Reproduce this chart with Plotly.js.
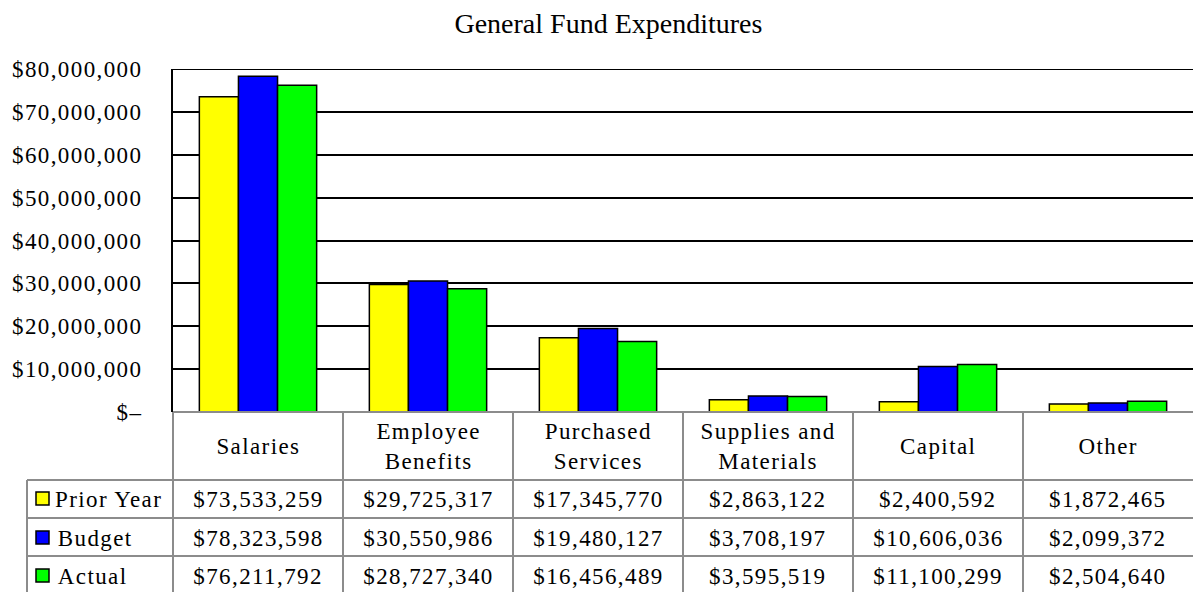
<!DOCTYPE html>
<html>
<head>
<meta charset="utf-8">
<script src="https://cdn.plot.ly/plotly-3.0.1.min.js"></script>
<style>
  html, body { margin: 0; padding: 0; background: #fff; }
  #chart { width: 1193px; height: 592px; }
  .main-svg .ytick text, .main-svg .annotation text { letter-spacing: 1.4px; }
</style>
</head>
<body>
<div id="chart"></div>
<script>
// ---- data ----
const categories = ["Salaries", "Employee<br>Benefits", "Purchased<br>Services", "Supplies and<br>Materials", "Capital", "Other"];
const seriesNames = ["Prior Year", "Budget", "Actual"];
const priorYear = [73533259, 29725317, 17345770, 2863122, 2400592, 1872465];
const budget    = [78323598, 30550986, 19480127, 3708197, 10606036, 2099372];
const actual    = [76211792, 28727340, 16456489, 3595519, 11100299, 2504640];
const yTickVals = [0, 10000000, 20000000, 30000000, 40000000, 50000000, 60000000, 70000000, 80000000];
const yTickText = ["$\u2013", "$10,000,000", "$20,000,000", "$30,000,000", "$40,000,000", "$50,000,000", "$60,000,000", "$70,000,000", "$80,000,000"];
const seriesColors = ["#FFFF00", "#0000FF", "#00FF00"];

// ---- geometry ----
const W = 1193, H = 592;
const L = 173, R = 0, T = 69, B = 180;
const plotW = W - L - R, plotH = H - T - B;
const px = x => (x - L) / plotW;
const py = y => (H - B - y) / plotH;
const FONT = '"Liberation Serif", "Times New Roman", serif';
const GRAY = '#8c8c8c';

const allSeries = [priorYear, budget, actual];
const xIdx = categories.map((c, i) => i);

const traces = allSeries.map((vals, s) => ({
  type: 'bar',
  name: seriesNames[s],
  x: xIdx,
  y: vals,
  marker: { color: seriesColors[s], line: { color: '#000', width: 1.5 } },
  hoverinfo: 'skip'
}));

const shapes = [];
const annotations = [];

// top border line (80M gridline)
shapes.push({ type: 'line', xref: 'paper', yref: 'y', x0: 0, x1: 1, y0: 80000000, y1: 80000000, line: { color: '#000', width: 2 } });

// table geometry
const colW = plotW / categories.length;
const headerTop = H - B, headerBot = 480;
const rowLines = [480, 518, 556];
const rowBot = 594;
const legendLeft = 27;

// horizontal lines
shapes.push({ type: 'line', xref: 'paper', yref: 'paper', x0: px(L), x1: px(W), y0: py(headerTop), y1: py(headerTop), line: { color: GRAY, width: 2 } });
rowLines.forEach(y => shapes.push({ type: 'line', xref: 'paper', yref: 'paper', x0: px(legendLeft), x1: px(W), y0: py(y), y1: py(y), line: { color: GRAY, width: 2 } }));
// vertical lines
shapes.push({ type: 'line', xref: 'paper', yref: 'paper', x0: px(legendLeft), x1: px(legendLeft), y0: py(headerBot), y1: py(rowBot), line: { color: GRAY, width: 2 } });
for (let i = 0; i < categories.length; i++) {
  const x = L + i * colW;
  shapes.push({ type: 'line', xref: 'paper', yref: 'paper', x0: px(x), x1: px(x), y0: py(headerTop), y1: py(rowBot), line: { color: GRAY, width: 2 } });
}

const textFont = { family: FONT, size: 23, color: '#000' };
// category header
categories.forEach((c, i) => {
  annotations.push({ xref: 'paper', yref: 'paper', x: px(L + (i + 0.5) * colW), y: py((headerTop + headerBot) / 2 + 1),
    text: c, showarrow: false, xanchor: 'center', yanchor: 'middle', font: textFont });
});
const fmt = v => '$' + v.toLocaleString('en-US');
const rowCenters = [499, 538, 576];
allSeries.forEach((vals, s) => {
  const yc = rowCenters[s];
  // legend key
  shapes.push({ type: 'rect', xref: 'paper', yref: 'paper', x0: px(36), x1: px(49), y0: py(yc - 7), y1: py(yc + 6),
    fillcolor: seriesColors[s], line: { color: '#000', width: 1.5 } });
  annotations.push({ xref: 'paper', yref: 'paper', x: px(55), y: py(yc), text: seriesNames[s], showarrow: false,
    xanchor: 'left', yanchor: 'middle', xshift: 6, font: textFont, borderpad: 0 });
  vals.forEach((v, i) => {
    annotations.push({ xref: 'paper', yref: 'paper', x: px(L + (i + 0.5) * colW), y: py(yc), text: fmt(v), showarrow: false,
      xanchor: 'center', yanchor: 'middle', font: textFont });
  });
});

const layout = {
  width: W, height: H,
  margin: { l: L, r: R, t: T, b: B, pad: 0 },
  paper_bgcolor: '#fff', plot_bgcolor: '#fff',
  title: { text: 'General Fund Expenditures', font: { family: FONT, size: 28, color: '#000' }, x: 0.51, xanchor: 'center', y: 1 - 23 / H, yanchor: 'middle' },
  showlegend: false,
  barmode: 'group',
  bargap: 0.31,
  bargroupgap: 0,
  xaxis: { type: 'linear', range: [-0.5, categories.length - 0.5], showticklabels: false, showgrid: false, zeroline: false, showline: false, ticks: '', fixedrange: true },
  yaxis: { range: [0, 80000000], tickvals: yTickVals, ticktext: yTickText, showgrid: true, gridcolor: '#000', gridwidth: 2,
    zeroline: false, showline: true, linecolor: '#000', linewidth: 2, ticks: '', ticklabelstandoff: 24, automargin: false,
    tickfont: { family: FONT, size: 23, color: '#000' } },
  shapes: shapes,
  annotations: annotations,
  font: { family: FONT }
};

Plotly.newPlot('chart', traces, layout, { displayModeBar: false, staticPlot: true });
</script>
</body>
</html>
